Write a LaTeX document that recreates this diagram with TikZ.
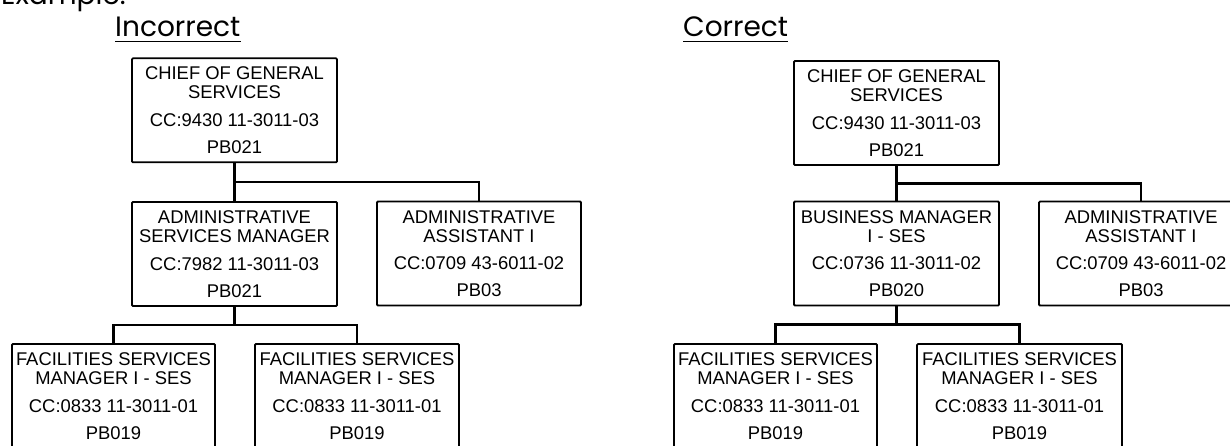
\documentclass[tikz,border=0pt]{standalone}
\usepackage{fontspec}
\setmainfont{Liberation Sans}
\newfontfamily\headfont{Poppins}
\usetikzlibrary{calc}
\tikzset{
  orgbox/.style={draw, line width=1.8pt, rectangle, rounded corners=1pt,
    minimum width=205pt, minimum height=104pt, inner sep=0pt, align=center,
    font=\fontsize{18.4}{19}\selectfont},
  conn/.style={line width=2.6pt},
  trunk/.style={line width=3.8pt},
  head/.style={font=\headfont\fontsize{28}{30}\selectfont, inner sep=0pt, anchor=base west},
  uline/.style={line width=1.4pt}
}
\begin{document}
\begin{tikzpicture}[x=1pt,y=-1pt]
\useasboundingbox (0,0) rectangle (1230,445);
\clip (0,0) rectangle (1230,445);
\fill[white] (0,0) rectangle (1230,445);

% headings
\node[head] (ex) at (1,4) {Example:};
\node[head] (hinc) at (115,36.7) {Incorrect};
\node[head] (hcor) at (683,36.7) {Correct};
\draw[uline] ([yshift=-4.5pt]hinc.base west) -- ([yshift=-4.5pt]hinc.base east);
\draw[uline] ([yshift=-4.5pt]hcor.base west) -- ([yshift=-4.5pt]hcor.base east);

% ---------- Incorrect ----------
\node[orgbox] (c1) at (234.5,110.3) {CHIEF OF GENERAL\\SERVICES\\[8.7pt]CC:9430 11-3011-03\\[7.7pt]PB021};
\node[orgbox] (a1) at (234.5,254) {ADMINISTRATIVE\\SERVICES MANAGER\\[8.7pt]CC:7982 11-3011-03\\[7.7pt]PB021};
\node[orgbox, minimum width=204pt] (aa1) at (479,253.5) {ADMINISTRATIVE\\ASSISTANT I\\[8.7pt]CC:0709 43-6011-02\\[7.7pt]PB03};
\node[orgbox, minimum width=203pt] (f1) at (113.5,396) {FACILITIES SERVICES\\MANAGER I - SES\\[8.7pt]CC:0833 11-3011-01\\[7.7pt]PB019};
\node[orgbox, minimum width=204pt] (f2) at (357,396) {FACILITIES SERVICES\\MANAGER I - SES\\[8.7pt]CC:0833 11-3011-01\\[7.7pt]PB019};

\draw[trunk] (c1.south) -- (a1.north);
\draw[conn] ($(c1.south)!.5!(a1.north)$) -| (aa1.north);
\coordinate (k1) at ($(a1.south)!.5!(a1.south |- f1.north)$);
\draw[trunk] (a1.south) -- (k1);
\draw[conn] (f1.north) |- (k1) -| (f2.north);

% ---------- Correct ----------
\node[orgbox] (c2) at (896.5,113) {CHIEF OF GENERAL\\SERVICES\\[8.7pt]CC:9430 11-3011-03\\[7.7pt]PB021};
\node[orgbox] (b2) at (896.5,253.5) {BUSINESS MANAGER\\I - SES\\[8.7pt]CC:0736 11-3011-02\\[7.7pt]PB020};
\node[orgbox, minimum width=204pt] (aa2) at (1141,253.5) {ADMINISTRATIVE\\ASSISTANT I\\[8.7pt]CC:0709 43-6011-02\\[7.7pt]PB03};
\node[orgbox, minimum width=203pt] (f3) at (775.5,396) {FACILITIES SERVICES\\MANAGER I - SES\\[8.7pt]CC:0833 11-3011-01\\[7.7pt]PB019};
\node[orgbox] (f4) at (1019.5,396) {FACILITIES SERVICES\\MANAGER I - SES\\[8.7pt]CC:0833 11-3011-01\\[7.7pt]PB019};

\draw[trunk] (c2.south) -- (b2.north);
\draw[conn] ($(c2.south)!.5!(b2.north)$) -| (aa2.north);
\coordinate (k2) at ($(b2.south)!.5!(b2.south |- f3.north)$);
\draw[trunk] (b2.south) -- (k2);
\draw[conn] (f3.north) |- (k2) -| (f4.north);
\end{tikzpicture}
\end{document}
